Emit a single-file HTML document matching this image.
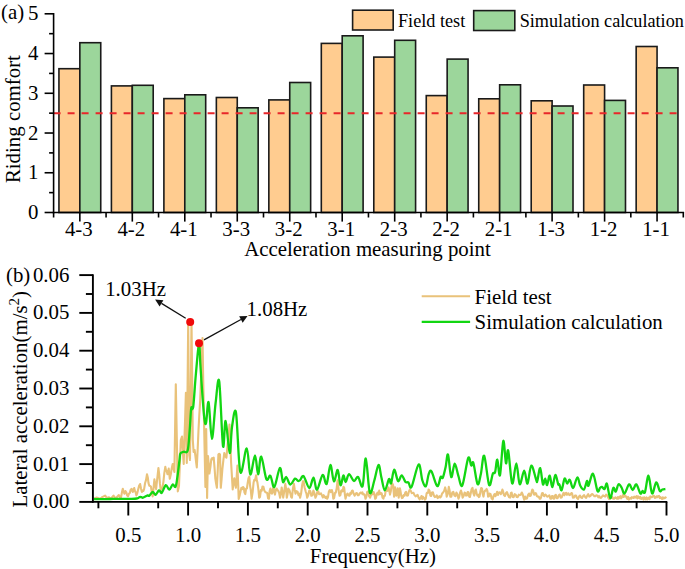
<!DOCTYPE html>
<html><head><meta charset="utf-8"><style>
html,body{margin:0;padding:0;background:#fff;}
svg{display:block;}
</style></head><body>
<svg width="685" height="569" viewBox="0 0 685 569">
<rect width="685" height="569" fill="#fff"/>
<g stroke="#1a1a1a" stroke-width="1.6">
<rect x="58.94" y="68.70" width="20.90" height="143.80" fill="#FFCC90"/>
<rect x="79.84" y="42.70" width="20.90" height="169.80" fill="#9CD69B"/>
<rect x="111.41" y="85.90" width="20.90" height="126.60" fill="#FFCC90"/>
<rect x="132.31" y="85.30" width="20.90" height="127.20" fill="#9CD69B"/>
<rect x="163.89" y="98.60" width="20.90" height="113.90" fill="#FFCC90"/>
<rect x="184.79" y="94.80" width="20.90" height="117.70" fill="#9CD69B"/>
<rect x="216.36" y="97.50" width="20.90" height="115.00" fill="#FFCC90"/>
<rect x="237.26" y="107.80" width="20.90" height="104.70" fill="#9CD69B"/>
<rect x="268.84" y="99.90" width="20.90" height="112.60" fill="#FFCC90"/>
<rect x="289.74" y="82.50" width="20.90" height="130.00" fill="#9CD69B"/>
<rect x="321.31" y="43.40" width="20.90" height="169.10" fill="#FFCC90"/>
<rect x="342.21" y="35.80" width="20.90" height="176.70" fill="#9CD69B"/>
<rect x="373.79" y="57.10" width="20.90" height="155.40" fill="#FFCC90"/>
<rect x="394.69" y="40.30" width="20.90" height="172.20" fill="#9CD69B"/>
<rect x="426.26" y="95.60" width="20.90" height="116.90" fill="#FFCC90"/>
<rect x="447.16" y="59.10" width="20.90" height="153.40" fill="#9CD69B"/>
<rect x="478.74" y="98.80" width="20.90" height="113.70" fill="#FFCC90"/>
<rect x="499.64" y="84.80" width="20.90" height="127.70" fill="#9CD69B"/>
<rect x="531.21" y="100.80" width="20.90" height="111.70" fill="#FFCC90"/>
<rect x="552.11" y="106.00" width="20.90" height="106.50" fill="#9CD69B"/>
<rect x="583.69" y="85.00" width="20.90" height="127.50" fill="#FFCC90"/>
<rect x="604.59" y="100.40" width="20.90" height="112.10" fill="#9CD69B"/>
<rect x="636.16" y="46.50" width="20.90" height="166.00" fill="#FFCC90"/>
<rect x="657.06" y="67.80" width="20.90" height="144.70" fill="#9CD69B"/>
</g>
<line x1="53.6" y1="113.3" x2="677" y2="113.3" stroke="#E8262A" stroke-width="1.9" stroke-dasharray="7 7"/>
<g stroke="#000" stroke-width="1.6" fill="none">
<line x1="53.6" y1="213.3" x2="53.6" y2="12.999999999999982"/>
<line x1="52.800000000000004" y1="212.5" x2="684.0999999999999" y2="212.5"/>
<line x1="44.6" y1="212.50" x2="53.6" y2="212.50"/>
<line x1="49.1" y1="192.63" x2="53.6" y2="192.63"/>
<line x1="44.6" y1="172.76" x2="53.6" y2="172.76"/>
<line x1="49.1" y1="152.89" x2="53.6" y2="152.89"/>
<line x1="44.6" y1="133.02" x2="53.6" y2="133.02"/>
<line x1="49.1" y1="113.15" x2="53.6" y2="113.15"/>
<line x1="44.6" y1="93.28" x2="53.6" y2="93.28"/>
<line x1="49.1" y1="73.41" x2="53.6" y2="73.41"/>
<line x1="44.6" y1="53.54" x2="53.6" y2="53.54"/>
<line x1="49.1" y1="33.67" x2="53.6" y2="33.67"/>
<line x1="44.6" y1="13.80" x2="53.6" y2="13.80"/>
<line x1="53.60" y1="212.5" x2="53.60" y2="217.5"/>
<line x1="106.07" y1="212.5" x2="106.07" y2="217.5"/>
<line x1="158.55" y1="212.5" x2="158.55" y2="217.5"/>
<line x1="211.02" y1="212.5" x2="211.02" y2="217.5"/>
<line x1="263.50" y1="212.5" x2="263.50" y2="217.5"/>
<line x1="315.98" y1="212.5" x2="315.98" y2="217.5"/>
<line x1="368.45" y1="212.5" x2="368.45" y2="217.5"/>
<line x1="420.92" y1="212.5" x2="420.92" y2="217.5"/>
<line x1="473.40" y1="212.5" x2="473.40" y2="217.5"/>
<line x1="525.88" y1="212.5" x2="525.88" y2="217.5"/>
<line x1="578.35" y1="212.5" x2="578.35" y2="217.5"/>
<line x1="630.82" y1="212.5" x2="630.82" y2="217.5"/>
<line x1="683.30" y1="212.5" x2="683.30" y2="217.5"/>
<line x1="79.84" y1="212.5" x2="79.84" y2="221.6"/>
<line x1="132.31" y1="212.5" x2="132.31" y2="221.6"/>
<line x1="184.79" y1="212.5" x2="184.79" y2="221.6"/>
<line x1="237.26" y1="212.5" x2="237.26" y2="221.6"/>
<line x1="289.74" y1="212.5" x2="289.74" y2="221.6"/>
<line x1="342.21" y1="212.5" x2="342.21" y2="221.6"/>
<line x1="394.69" y1="212.5" x2="394.69" y2="221.6"/>
<line x1="447.16" y1="212.5" x2="447.16" y2="221.6"/>
<line x1="499.64" y1="212.5" x2="499.64" y2="221.6"/>
<line x1="552.11" y1="212.5" x2="552.11" y2="221.6"/>
<line x1="604.59" y1="212.5" x2="604.59" y2="221.6"/>
<line x1="657.06" y1="212.5" x2="657.06" y2="221.6"/>
</g>
<g font-family='"Liberation Serif", serif' font-size="20.85" fill="#000">
<text x="1.0" y="19.1">(a)</text>
<text x="38.4" y="219.00" text-anchor="end">0</text>
<text x="38.4" y="179.26" text-anchor="end">1</text>
<text x="38.4" y="139.52" text-anchor="end">2</text>
<text x="38.4" y="99.78" text-anchor="end">3</text>
<text x="38.4" y="60.04" text-anchor="end">4</text>
<text x="38.4" y="20.30" text-anchor="end">5</text>
<text x="78.84" y="235.8" text-anchor="middle">4-3</text>
<text x="131.31" y="235.8" text-anchor="middle">4-2</text>
<text x="183.79" y="235.8" text-anchor="middle">4-1</text>
<text x="236.26" y="235.8" text-anchor="middle">3-3</text>
<text x="288.74" y="235.8" text-anchor="middle">3-2</text>
<text x="341.21" y="235.8" text-anchor="middle">3-1</text>
<text x="393.69" y="235.8" text-anchor="middle">2-3</text>
<text x="446.16" y="235.8" text-anchor="middle">2-2</text>
<text x="498.64" y="235.8" text-anchor="middle">2-1</text>
<text x="551.11" y="235.8" text-anchor="middle">1-3</text>
<text x="603.59" y="235.8" text-anchor="middle">1-2</text>
<text x="656.06" y="235.8" text-anchor="middle">1-1</text>
<text x="367.5" y="256" text-anchor="middle">Acceleration measuring point</text>
<text transform="translate(20.2,119.1) rotate(-90)" text-anchor="middle">Riding comfort</text>
</g>
<rect x="352.6" y="10.2" width="40.6" height="19.8" fill="#FFCC90" stroke="#1a1a1a" stroke-width="1.6"/>
<rect x="473.7" y="10.6" width="41.1" height="19.9" fill="#9CD69B" stroke="#1a1a1a" stroke-width="1.6"/>
<g font-family='"Liberation Serif", serif' font-size="18.2" fill="#000">
<text x="398" y="26.6">Field test</text>
<text x="519.7" y="26.6">Simulation calculation</text>
</g>
<polyline fill="none" stroke="#E9C27A" stroke-width="2.1" stroke-linejoin="round" points="94.0,498.9 94.8,498.5 95.6,498.0 96.4,497.6 97.3,497.8 98.2,498.1 99.0,498.3 99.9,498.5 100.7,498.1 101.5,497.6 102.2,497.1 103.0,496.7 103.7,496.3 104.5,496.0 105.2,495.6 106.1,496.8 107.0,498.0 107.8,497.6 108.7,497.2 109.4,497.7 110.2,498.3 110.9,498.8 111.8,497.7 112.6,496.7 113.5,495.6 114.2,496.6 115.0,497.5 115.7,498.5 116.5,497.6 117.2,496.8 118.0,495.9 118.8,495.0 119.7,496.8 120.6,498.5 121.3,495.9 122.1,491.5 122.8,488.8 123.7,492.2 124.5,493.7 125.4,491.0 126.3,492.3 127.1,495.3 128.0,496.3 128.9,493.8 129.8,493.0 130.6,489.9 131.5,488.8 132.2,490.7 132.9,491.9 133.6,489.2 134.2,488.0 134.9,490.9 135.7,492.5 136.4,495.4 137.2,493.3 138.1,489.7 139.1,485.8 140.1,484.0 141.0,488.5 141.9,492.0 142.6,490.5 143.4,491.0 144.1,489.1 145.1,483.0 146.0,480.1 147.0,474.3 147.8,477.4 148.5,483.1 149.3,485.7 150.2,485.9 151.0,486.8 151.8,492.7 152.7,496.5 153.6,487.3 154.4,479.4 155.2,484.7 156.1,489.1 156.9,481.6 157.6,475.7 158.4,468.0 159.2,474.4 159.9,483.4 160.7,490.3 161.6,488.3 162.4,488.0 163.4,481.8 164.3,473.2 165.3,466.8 166.0,470.1 166.8,471.4 167.5,474.3 168.7,468.6 169.8,478.8 170.8,474.3 171.7,468.4 172.7,464.0 173.6,468.9 174.4,472.0 175.1,428.1 175.8,384.2 176.8,437.8 177.8,491.4 179.0,485.7 179.9,462.9 180.8,440.0 182.0,436.5 182.8,450.2 183.7,464.0 184.4,440.3 185.2,416.5 185.9,392.8 186.8,463.0 187.5,393.0 188.2,323.0 189.3,455.0 190.0,460.0 190.8,391.0 191.5,322.0 192.2,381.0 192.8,440.0 193.6,452.0 194.6,450.0 195.3,455.1 196.1,462.2 196.8,467.4 197.7,448.7 198.5,430.0 199.3,415.0 200.2,400.0 201.0,379.3 201.7,358.7 202.5,338.0 203.2,379.0 204.0,420.0 204.7,453.5 205.4,487.0 206.2,429.0 207.1,498.0 208.0,456.0 208.7,463.9 209.4,473.5 210.4,467.1 211.3,459.3 212.1,458.2 212.9,459.3 213.7,457.7 214.5,467.1 215.3,478.3 216.1,483.6 216.9,487.8 217.7,471.2 218.4,454.6 219.2,453.8 220.0,454.6 220.8,487.8 221.6,479.1 222.4,468.8 223.4,459.8 224.3,453.0 225.4,456.3 226.4,457.7 227.2,449.4 227.9,441.1 228.7,432.8 229.5,424.5 230.3,443.5 231.1,462.5 231.9,475.9 232.7,489.4 233.5,483.2 234.3,478.3 235.1,484.2 235.9,487.8 236.7,476.2 237.4,465.6 238.1,482.2 238.7,498.9 239.6,495.7 240.6,491.0 241.4,487.8 242.2,489.2 243.0,487.0 243.8,488.0 244.5,492.5 245.3,494.1 246.1,488.7 246.9,488.5 247.7,483.0 248.5,478.3 249.3,476.7 250.1,486.0 250.8,490.2 251.6,498.7 252.6,492.3 253.6,482.4 254.3,479.8 255.1,480.3 256.1,475.2 256.8,480.4 257.4,482.4 258.3,488.7 259.2,497.7 260.0,496.9 260.9,490.0 261.7,490.7 262.5,486.5 263.4,486.8 264.3,490.5 265.4,492.3 266.4,492.6 267.2,492.9 268.1,498.3 268.9,498.7 269.6,491.4 270.4,488.5 271.2,493.0 272.0,493.6 272.8,489.2 273.5,487.0 274.2,492.1 275.0,494.6 275.8,489.9 276.6,488.5 277.4,490.2 278.1,490.5 279.1,492.7 280.1,497.7 280.9,493.5 281.7,487.5 282.4,491.8 283.2,497.7 284.2,491.6 285.3,483.9 286.1,489.0 286.8,497.7 287.6,494.0 288.3,488.5 289.4,490.0 290.4,493.6 291.1,496.9 291.9,497.7 292.9,488.8 293.9,483.9 294.7,489.5 295.5,493.6 296.5,491.2 297.5,491.6 298.4,495.1 299.2,493.6 300.1,497.7 301.1,493.5 302.1,485.4 302.9,481.4 303.6,481.3 304.6,487.5 305.7,491.6 306.4,493.4 307.2,497.7 308.2,495.3 309.3,490.5 310.3,491.1 311.3,495.7 312.4,495.2 313.4,490.5 314.4,493.2 315.4,497.7 316.4,495.6 317.4,491.6 318.3,491.4 319.1,494.2 320.0,494.0 321.0,493.4 322.0,495.6 322.9,497.5 323.7,495.2 324.6,496.6 325.5,498.0 326.3,496.7 327.2,498.7 328.0,497.0 328.9,491.4 329.7,490.0 330.8,492.1 331.8,490.0 332.6,492.6 333.3,498.7 334.1,498.1 335.0,493.0 335.8,492.5 336.7,488.1 337.6,480.3 338.2,485.7 338.9,492.5 339.6,495.8 340.4,495.1 341.2,490.7 342.0,490.0 342.7,491.3 343.5,486.7 344.2,487.9 344.9,494.6 345.5,498.7 346.6,494.8 347.6,493.5 348.6,495.4 349.6,495.6 350.4,492.7 351.1,493.8 351.9,491.0 352.7,490.5 353.7,494.0 354.7,495.6 355.8,493.4 356.8,493.0 357.8,495.2 358.8,495.1 359.9,493.1 360.9,492.5 361.6,493.5 362.4,492.4 363.1,494.4 363.9,494.0 364.7,495.1 365.5,498.7 366.3,497.0 367.2,491.9 368.0,491.5 369.1,496.2 370.1,497.6 370.9,495.2 371.6,494.6 372.6,494.3 373.6,492.0 374.4,494.2 375.2,498.7 376.0,497.9 376.9,493.7 377.7,492.5 378.5,494.6 379.2,490.6 380.0,494.3 380.8,493.0 381.7,493.5 382.5,497.6 383.4,498.7 384.1,495.8 384.9,495.8 385.6,491.5 386.4,490.5 387.4,490.9 388.5,487.4 389.2,490.1 390.0,494.6 390.8,491.2 391.5,486.4 392.3,483.5 393.1,484.9 394.1,496.6 395.1,487.4 396.3,495.6 397.0,493.5 397.7,488.4 398.7,497.6 399.9,488.4 400.5,491.1 401.2,495.6 402.0,498.1 402.8,497.6 403.6,495.2 404.5,495.7 405.3,492.5 406.1,491.9 406.9,495.6 407.9,495.5 408.9,491.5 409.9,489.5 410.9,491.0 411.7,493.1 412.5,493.0 413.5,492.8 414.5,495.1 415.6,496.3 416.6,495.6 417.6,494.8 418.6,497.6 419.6,499.3 420.7,498.1 421.4,496.1 422.2,499.0 422.9,496.7 423.7,497.6 424.8,499.6 425.8,498.7 426.6,493.4 427.3,492.5 428.0,493.0 428.6,489.5 429.5,490.6 430.4,495.6 431.1,496.0 431.9,492.5 432.9,492.3 433.9,495.6 434.9,497.1 436.0,496.6 436.8,495.3 437.7,498.1 438.5,497.1 439.4,496.2 440.2,497.5 441.1,496.6 442.1,493.5 443.1,492.5 444.1,491.0 445.2,487.4 445.9,490.3 446.7,496.6 447.8,493.9 448.8,486.9 449.6,490.4 450.3,496.6 451.3,496.7 452.3,492.5 453.4,491.9 454.4,495.6 455.4,496.2 456.4,492.5 457.4,494.4 458.5,498.7 459.2,496.8 460.0,493.0 461.0,490.5 461.8,493.0 462.6,497.6 463.6,496.0 464.6,492.5 465.4,493.1 466.1,495.6 466.9,495.4 467.7,492.0 468.4,492.3 469.2,496.6 469.9,497.0 470.7,493.5 471.6,489.3 472.5,487.9 473.4,493.4 474.3,495.6 475.1,490.7 475.8,489.5 476.6,493.3 477.4,495.6 478.1,494.7 478.9,497.1 479.6,496.4 480.4,491.5 481.2,488.1 482.0,488.4 482.8,494.3 483.5,496.6 484.2,492.2 485.0,490.5 485.8,490.6 486.6,488.9 487.4,490.9 488.1,496.6 488.9,496.2 489.6,493.5 490.6,494.2 491.7,498.7 492.7,499.3 493.7,495.6 494.6,494.0 495.4,496.2 496.3,494.6 497.1,491.8 498.0,495.0 498.8,492.5 499.9,492.4 500.9,494.1 501.6,492.7 502.4,489.5 503.1,491.4 503.9,495.1 504.9,496.1 506.0,493.0 507.0,492.1 508.0,495.1 509.1,497.2 510.1,497.6 510.9,493.1 511.6,492.5 512.6,497.0 513.6,497.1 514.7,494.2 515.7,494.6 516.7,497.0 517.7,497.1 518.8,494.6 519.8,495.1 520.8,494.7 521.8,492.5 522.6,494.1 523.4,497.1 524.2,499.6 525.1,496.5 525.9,498.7 527.0,498.4 528.0,495.1 529.0,493.5 530.0,496.0 530.8,495.6 531.5,492.5 532.3,489.5 533.1,490.5 533.9,494.5 534.6,494.6 535.4,493.1 536.1,493.5 536.9,496.1 537.7,496.6 538.7,496.5 539.7,498.7 540.5,498.7 541.2,496.6 542.0,493.2 542.8,493.0 543.5,495.6 544.3,496.1 545.3,494.5 546.4,495.6 547.4,496.7 548.4,496.1 549.4,495.3 550.4,498.7 551.2,498.6 552.0,496.1 552.8,496.0 553.5,498.7 554.2,498.7 555.0,495.6 555.8,494.8 556.6,498.1 557.6,498.2 558.6,495.6 559.7,494.5 560.7,497.6 561.7,497.5 562.7,494.6 563.6,492.8 564.4,495.3 565.3,493.5 566.1,492.8 567.0,494.8 567.8,493.5 568.5,493.4 569.3,495.1 570.3,494.7 571.4,493.0 572.1,493.4 572.9,497.6 574.0,497.5 575.0,495.6 576.0,495.5 577.0,498.1 578.0,499.1 579.0,496.6 580.0,495.6 581.1,497.6 582.1,498.0 583.1,496.1 584.2,495.1 585.2,497.1 586.2,497.9 587.2,495.6 588.2,494.2 589.3,496.6 590.3,496.1 591.3,494.6 592.3,494.0 593.4,495.1 594.4,496.2 595.4,496.1 596.4,495.2 597.4,495.6 598.3,497.4 599.1,496.1 600.0,497.6 601.0,498.0 602.0,496.6 603.0,495.3 604.1,496.1 605.1,496.6 606.1,494.6 607.2,495.3 608.2,497.6 609.2,499.1 610.2,498.7 611.2,497.0 612.3,497.1 613.3,498.8 614.3,498.7 615.3,497.4 616.4,498.1 617.1,498.8 617.9,497.0 618.6,498.6 619.4,497.6 620.3,496.2 621.1,498.3 622.0,497.1 622.8,495.2 623.7,497.0 624.5,495.1 625.5,495.7 626.6,497.6 627.4,498.8 628.1,496.9 628.9,499.6 629.6,498.7 630.4,497.9 631.2,498.7 631.9,497.1 632.7,497.6 633.5,497.9 634.2,496.7 635.0,497.7 635.8,497.1 636.5,496.2 637.3,498.5 638.0,496.3 638.8,497.6 639.6,498.3 640.3,496.8 641.1,499.0 641.9,498.1 642.7,497.7 643.5,499.6 644.2,497.3 645.0,498.7 645.8,499.3 646.5,497.4 647.2,499.5 648.0,498.7 648.8,497.5 649.5,499.2 650.3,496.4 651.1,497.1 652.1,497.1 653.1,496.1 654.0,495.8 654.8,498.0 655.7,497.6 656.5,496.4 657.4,497.2 658.2,496.1 659.0,495.9 659.8,498.1 660.5,497.2 661.3,498.1 662.1,499.0 662.8,497.3 663.6,498.5 664.4,498.1 665.4,497.4 666.4,498.1"/>
<path fill="none" stroke="#12D612" stroke-width="2.3" stroke-linejoin="round" d="M94.00,499.00 C95.00,499.03 97.33,499.20 100.00,499.20 C102.67,499.20 106.67,499.07 110.00,499.00 C113.33,498.93 116.67,498.83 120.00,498.80 C123.33,498.77 127.20,498.85 130.00,498.80 C132.80,498.75 135.20,498.78 136.80,498.50 C138.40,498.22 138.83,497.32 139.60,497.10 C140.37,496.88 140.83,497.10 141.40,497.20 C141.97,497.30 141.97,498.00 143.00,497.70 C144.03,497.40 146.55,495.73 147.60,495.40 C148.65,495.07 148.45,496.27 149.30,495.70 C150.15,495.13 151.65,492.15 152.70,492.00 C153.75,491.85 154.55,495.08 155.60,494.80 C156.65,494.52 157.97,490.63 159.00,490.30 C160.03,489.97 160.67,493.67 161.80,492.80 C162.93,491.93 164.55,485.62 165.80,485.10 C167.05,484.58 168.15,489.80 169.30,489.70 C170.45,489.60 171.67,484.98 172.70,484.50 C173.73,484.02 174.73,487.93 175.50,486.80 C176.27,485.67 176.63,482.17 177.30,477.70 C177.97,473.23 178.98,464.03 179.50,460.00 C180.02,455.97 179.70,454.87 180.40,453.50 C181.10,452.13 182.48,452.32 183.70,451.80 C184.92,451.28 186.70,454.03 187.70,450.40 C188.70,446.77 189.12,437.02 189.70,430.00 C190.28,422.98 190.62,412.13 191.20,408.30 C191.78,404.47 192.43,412.55 193.20,407.00 C193.97,401.45 194.83,385.58 195.80,375.00 C196.77,364.42 198.23,345.17 199.00,343.50 C199.77,341.83 199.83,356.42 200.40,365.00 C200.97,373.58 201.73,386.03 202.40,395.00 C203.07,403.97 203.78,414.17 204.40,418.80 C205.02,423.43 205.40,425.55 206.10,422.80 C206.80,420.05 207.63,399.63 208.60,402.30 C209.57,404.97 210.73,438.68 211.90,438.80 C213.07,438.92 214.38,412.60 215.60,403.00 C216.82,393.40 217.97,374.03 219.20,381.20 C220.43,388.37 221.93,439.37 223.00,446.00 C224.07,452.63 224.48,419.83 225.60,421.00 C226.72,422.17 228.63,452.00 229.70,453.00 C230.77,454.00 230.95,433.72 232.00,427.00 C233.05,420.28 234.62,405.20 236.00,412.70 C237.38,420.20 238.52,466.07 240.30,472.00 C242.08,477.93 245.03,447.90 246.70,448.30 C248.37,448.70 248.92,473.22 250.30,474.40 C251.68,475.58 253.70,455.40 255.00,455.40 C256.30,455.40 257.07,474.20 258.10,474.40 C259.13,474.60 259.82,455.80 261.20,456.60 C262.58,457.40 264.87,476.02 266.40,479.20 C267.93,482.38 269.08,474.40 270.40,475.70 C271.72,477.00 272.72,488.28 274.30,487.00 C275.88,485.72 278.45,468.83 279.90,468.00 C281.35,467.17 281.95,480.50 283.00,482.00 C284.05,483.50 284.98,476.58 286.20,477.00 C287.42,477.42 288.83,484.23 290.30,484.50 C291.77,484.77 293.72,479.18 295.00,478.60 C296.28,478.02 297.15,480.73 298.00,481.00 C298.85,481.27 299.17,481.00 300.10,480.20 C301.03,479.40 302.07,474.90 303.60,476.20 C305.13,477.50 307.65,487.75 309.30,488.00 C310.95,488.25 312.22,477.42 313.50,477.70 C314.78,477.98 315.48,490.17 317.00,489.70 C318.52,489.23 321.00,475.85 322.60,474.90 C324.20,473.95 325.30,485.65 326.60,484.00 C327.90,482.35 329.18,465.47 330.40,465.00 C331.62,464.53 332.68,480.37 333.90,481.20 C335.12,482.03 336.60,469.33 337.70,470.00 C338.80,470.67 339.55,484.27 340.50,485.20 C341.45,486.13 342.53,476.13 343.40,475.60 C344.27,475.07 344.77,482.23 345.70,482.00 C346.63,481.77 347.63,474.37 349.00,474.20 C350.37,474.03 352.38,480.53 353.90,481.00 C355.42,481.47 356.65,476.15 358.10,477.00 C359.55,477.85 361.32,489.18 362.60,486.10 C363.88,483.02 364.60,457.43 365.80,458.50 C367.00,459.57 368.38,488.83 369.80,492.50 C371.22,496.17 372.85,485.08 374.30,480.50 C375.75,475.92 377.33,465.58 378.50,465.00 C379.67,464.42 380.25,472.77 381.30,477.00 C382.35,481.23 383.52,490.05 384.80,490.40 C386.08,490.75 387.95,480.28 389.00,479.10 C390.05,477.92 390.23,484.87 391.10,483.30 C391.97,481.73 393.03,470.05 394.20,469.70 C395.37,469.35 396.85,480.27 398.10,481.20 C399.35,482.13 400.47,475.17 401.70,475.30 C402.93,475.43 404.38,480.82 405.50,482.00 C406.62,483.18 407.38,481.60 408.40,482.40 C409.42,483.20 409.90,489.80 411.60,486.80 C413.30,483.80 416.80,465.45 418.60,464.40 C420.40,463.35 421.18,476.88 422.40,480.50 C423.62,484.12 424.85,487.15 425.90,486.10 C426.95,485.05 427.77,476.65 428.70,474.20 C429.63,471.75 430.08,469.42 431.50,471.40 C432.92,473.38 435.67,485.17 437.20,486.10 C438.73,487.03 439.77,478.40 440.70,477.00 C441.63,475.60 441.98,479.33 442.80,477.70 C443.62,476.07 444.73,471.07 445.60,467.20 C446.47,463.33 447.07,452.87 448.00,454.50 C448.93,456.13 450.08,475.47 451.20,477.00 C452.32,478.53 453.52,463.93 454.70,463.70 C455.88,463.47 457.03,471.97 458.30,475.60 C459.57,479.23 460.65,488.43 462.30,485.50 C463.95,482.57 466.72,461.33 468.20,458.00 C469.68,454.67 470.33,464.67 471.20,465.50 C472.07,466.33 472.33,459.88 473.40,463.00 C474.47,466.12 476.35,482.42 477.60,484.20 C478.85,485.98 479.80,478.43 480.90,473.70 C482.00,468.97 482.83,453.93 484.20,455.80 C485.57,457.67 487.67,481.92 489.10,484.90 C490.53,487.88 491.80,475.82 492.80,473.70 C493.80,471.58 494.35,474.55 495.10,472.20 C495.85,469.85 496.48,459.10 497.30,459.60 C498.12,460.10 499.00,478.32 500.00,475.20 C501.00,472.08 502.30,442.88 503.30,440.90 C504.30,438.92 505.18,461.68 506.00,463.30 C506.82,464.92 507.17,447.25 508.20,450.60 C509.23,453.95 510.85,481.28 512.20,483.40 C513.55,485.52 515.05,463.17 516.30,463.30 C517.55,463.43 518.38,482.97 519.70,484.20 C521.02,485.43 522.90,470.82 524.20,470.70 C525.50,470.58 526.32,484.35 527.50,483.50 C528.68,482.65 529.85,466.22 531.30,465.60 C532.75,464.98 535.20,477.23 536.20,479.80 C537.20,482.37 536.63,482.95 537.30,481.00 C537.97,479.05 539.27,467.57 540.20,468.10 C541.13,468.63 542.07,482.45 542.90,484.20 C543.73,485.95 544.50,478.47 545.20,478.60 C545.90,478.73 546.35,485.50 547.10,485.00 C547.85,484.50 548.83,475.23 549.70,475.60 C550.57,475.97 551.37,487.30 552.30,487.20 C553.23,487.10 554.32,475.50 555.30,475.00 C556.28,474.50 557.52,482.62 558.20,484.20 C558.88,485.78 558.83,483.50 559.40,484.50 C559.97,485.50 560.73,491.18 561.60,490.20 C562.47,489.22 563.68,479.72 564.60,478.60 C565.52,477.48 566.23,483.30 567.10,483.50 C567.97,483.70 568.80,479.05 569.80,479.80 C570.80,480.55 571.85,488.38 573.10,488.00 C574.35,487.62 576.10,477.88 577.30,477.50 C578.50,477.12 579.18,483.70 580.30,485.70 C581.42,487.70 582.88,490.28 584.00,489.50 C585.12,488.72 586.25,481.63 587.00,481.00 C587.75,480.37 587.50,486.90 588.50,485.70 C589.50,484.50 591.50,472.92 593.00,473.80 C594.50,474.68 596.33,488.65 597.50,491.00 C598.67,493.35 599.25,488.58 600.00,487.90 C600.75,487.22 601.23,486.72 602.00,486.90 C602.77,487.08 603.78,489.52 604.60,489.00 C605.42,488.48 605.97,482.28 606.90,483.80 C607.83,485.32 609.13,497.42 610.20,498.10 C611.27,498.78 612.37,489.00 613.30,487.90 C614.23,486.80 614.95,492.08 615.80,491.50 C616.65,490.92 617.45,485.08 618.40,484.40 C619.35,483.72 620.48,485.88 621.50,487.40 C622.52,488.92 623.23,494.00 624.50,493.50 C625.77,493.00 627.73,484.98 629.10,484.40 C630.47,483.82 631.50,490.00 632.70,490.00 C633.90,490.00 635.02,483.82 636.30,484.40 C637.58,484.98 639.38,492.40 640.40,493.50 C641.42,494.60 641.63,491.25 642.40,491.00 C643.17,490.75 643.98,494.55 645.00,492.00 C646.02,489.45 647.32,475.45 648.50,475.70 C649.68,475.95 650.82,492.40 652.10,493.50 C653.38,494.60 654.92,482.72 656.20,482.30 C657.48,481.88 658.78,489.80 659.80,491.00 C660.82,492.20 661.37,489.83 662.30,489.50 C663.23,489.17 664.88,489.08 665.40,489.00"/>
<g stroke="#000" stroke-width="1.9" fill="none">
<line x1="92.9" y1="502.7" x2="92.9" y2="274.3"/>
<line x1="92.10000000000001" y1="501.9" x2="667.3" y2="501.9"/>
<line x1="79.30000000000001" y1="501.90" x2="92.9" y2="501.90"/>
<line x1="85.9" y1="483.00" x2="92.9" y2="483.00"/>
<line x1="79.30000000000001" y1="464.10" x2="92.9" y2="464.10"/>
<line x1="85.9" y1="445.20" x2="92.9" y2="445.20"/>
<line x1="79.30000000000001" y1="426.30" x2="92.9" y2="426.30"/>
<line x1="85.9" y1="407.40" x2="92.9" y2="407.40"/>
<line x1="79.30000000000001" y1="388.50" x2="92.9" y2="388.50"/>
<line x1="85.9" y1="369.60" x2="92.9" y2="369.60"/>
<line x1="79.30000000000001" y1="350.70" x2="92.9" y2="350.70"/>
<line x1="85.9" y1="331.80" x2="92.9" y2="331.80"/>
<line x1="79.30000000000001" y1="312.90" x2="92.9" y2="312.90"/>
<line x1="85.9" y1="294.00" x2="92.9" y2="294.00"/>
<line x1="79.30000000000001" y1="275.10" x2="92.9" y2="275.10"/>
<line x1="98.40" y1="501.9" x2="98.40" y2="508.29999999999995"/>
<line x1="128.30" y1="501.9" x2="128.30" y2="515.5"/>
<line x1="158.20" y1="501.9" x2="158.20" y2="508.29999999999995"/>
<line x1="188.10" y1="501.9" x2="188.10" y2="515.5"/>
<line x1="218.00" y1="501.9" x2="218.00" y2="508.29999999999995"/>
<line x1="247.90" y1="501.9" x2="247.90" y2="515.5"/>
<line x1="277.80" y1="501.9" x2="277.80" y2="508.29999999999995"/>
<line x1="307.70" y1="501.9" x2="307.70" y2="515.5"/>
<line x1="337.60" y1="501.9" x2="337.60" y2="508.29999999999995"/>
<line x1="367.50" y1="501.9" x2="367.50" y2="515.5"/>
<line x1="397.40" y1="501.9" x2="397.40" y2="508.29999999999995"/>
<line x1="427.30" y1="501.9" x2="427.30" y2="515.5"/>
<line x1="457.20" y1="501.9" x2="457.20" y2="508.29999999999995"/>
<line x1="487.10" y1="501.9" x2="487.10" y2="515.5"/>
<line x1="517.00" y1="501.9" x2="517.00" y2="508.29999999999995"/>
<line x1="546.90" y1="501.9" x2="546.90" y2="515.5"/>
<line x1="576.80" y1="501.9" x2="576.80" y2="508.29999999999995"/>
<line x1="606.70" y1="501.9" x2="606.70" y2="515.5"/>
<line x1="636.60" y1="501.9" x2="636.60" y2="508.29999999999995"/>
<line x1="666.50" y1="501.9" x2="666.50" y2="515.5"/>
</g>
<g font-family='"Liberation Serif", serif' font-size="20.85" fill="#000">
<text x="6" y="282">(b)</text>
<text x="69.4" y="508.30" text-anchor="end">0.00</text>
<text x="69.4" y="470.50" text-anchor="end">0.01</text>
<text x="69.4" y="432.70" text-anchor="end">0.02</text>
<text x="69.4" y="394.90" text-anchor="end">0.03</text>
<text x="69.4" y="357.10" text-anchor="end">0.04</text>
<text x="69.4" y="319.30" text-anchor="end">0.05</text>
<text x="69.4" y="281.50" text-anchor="end">0.06</text>
<text x="128.30" y="541.6" text-anchor="middle">0.5</text>
<text x="188.10" y="541.6" text-anchor="middle">1.0</text>
<text x="247.90" y="541.6" text-anchor="middle">1.5</text>
<text x="307.70" y="541.6" text-anchor="middle">2.0</text>
<text x="367.50" y="541.6" text-anchor="middle">2.5</text>
<text x="427.30" y="541.6" text-anchor="middle">3.0</text>
<text x="487.10" y="541.6" text-anchor="middle">3.5</text>
<text x="546.90" y="541.6" text-anchor="middle">4.0</text>
<text x="606.70" y="541.6" text-anchor="middle">4.5</text>
<text x="666.50" y="541.6" text-anchor="middle">5.0</text>
<text x="372.9" y="562.7" text-anchor="middle">Frequency(Hz)</text>
<text transform="translate(26.8,399.2) rotate(-90)" text-anchor="middle">Lateral acceleration(m/s<tspan font-size="15" dy="-8">2</tspan><tspan dy="8">)</tspan></text>
<text x="105.2" y="295.9">1.03Hz</text>
<text x="246.6" y="316.3">1.08Hz</text>
<text x="474.6" y="303.6">Field test</text>
<text x="474.6" y="329.3">Simulation calculation</text>
</g>
<line x1="421.7" y1="296.2" x2="470.1" y2="296.2" stroke="#E9C27A" stroke-width="2.1"/>
<line x1="421.7" y1="321.9" x2="470.1" y2="321.9" stroke="#12D612" stroke-width="2.4"/>
<line x1="185.7" y1="318.2" x2="161.49" y2="303.33" stroke="#111" stroke-width="1.3"/><polygon fill="#111" points="155.1,299.4 163.37,300.26 159.61,306.39"/>
<line x1="204" y1="339.9" x2="240.93" y2="319.52" stroke="#111" stroke-width="1.3"/><polygon fill="#111" points="247.5,315.9 242.67,322.68 239.19,316.37"/>
<circle cx="190.2" cy="322" r="4" fill="#F00A0A"/>
<circle cx="199" cy="343.3" r="4" fill="#F00A0A"/>
</svg>
</body></html>
